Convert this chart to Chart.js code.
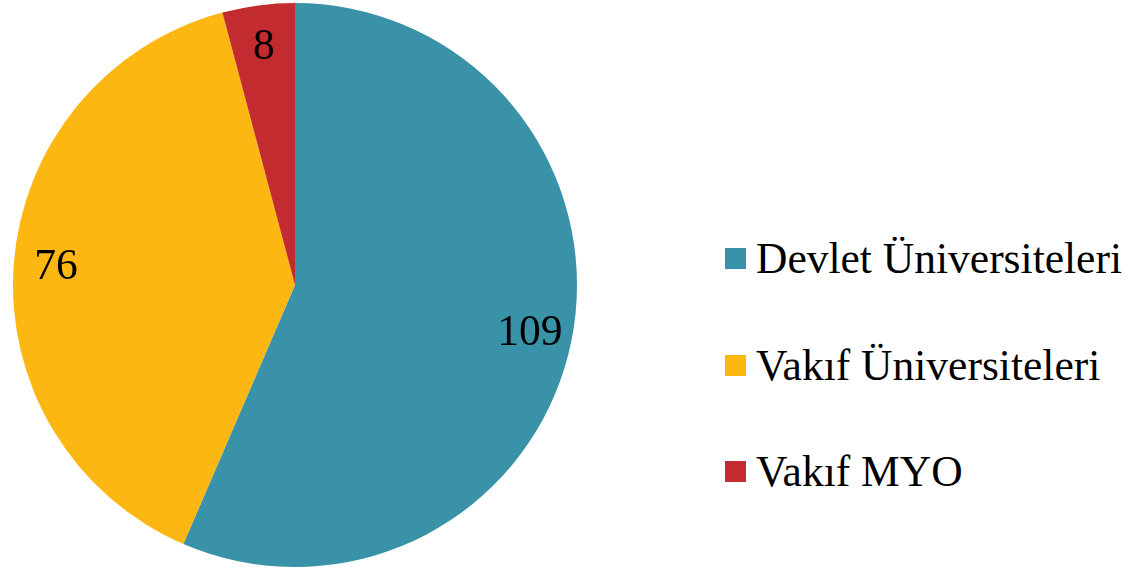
<!DOCTYPE html>
<html>
<head>
<meta charset="utf-8">
<script src="https://cdn.jsdelivr.net/npm/chart.js@4"></script>
<style>
  html, body { margin: 0; padding: 0; background: #ffffff; }
  #wrap { position: relative; width: 1126px; height: 567px; overflow: hidden; }
  #chartBox { position: absolute; left: 0; top: 0; width: 590px; height: 567px; }
  #legend { position: absolute; left: 725px; top: 0; font-family: "Liberation Serif", serif; font-size: 43.5px; color: #000; }
  .item { position: absolute; left: 0; display: flex; align-items: center; white-space: nowrap; height: 50px; }
  .sw { width: 21px; height: 21px; margin-right: 10px; flex: none; }
</style>
</head>
<body>
<div id="wrap">
  <div id="chartBox"><canvas id="c"></canvas></div>
  <div id="legend"></div>
</div>
<script>
const categories = ["Devlet Üniversiteleri", "Vakıf Üniversiteleri", "Vakıf MYO"];
const values = [109, 76, 8];
const colors = ["#3A92A8", "#FDB713", "#C22B2F"];

const FONT = '"Liberation Serif", serif';

const labelPlugin = {
  id: 'sliceLabels',
  afterDatasetsDraw(chart) {
    const ctx = chart.ctx;
    const meta = chart.getDatasetMeta(0);
    ctx.save();
    ctx.font = '43.5px ' + FONT;
    ctx.fillStyle = '#000';
    ctx.textAlign = 'center';
    ctx.textBaseline = 'middle';
    meta.data.forEach((arc, i) => {
      const p = arc.getProps(['x', 'y', 'startAngle', 'endAngle', 'outerRadius'], true);
      const mid = (p.startAngle + p.endAngle) / 2;
      const r = p.outerRadius * 0.85;
      ctx.fillText(String(values[i]), p.x + Math.cos(mid) * r, p.y + Math.sin(mid) * r);
    });
    ctx.restore();
  }
};

new Chart(document.getElementById('c'), {
  type: 'pie',
  data: {
    labels: categories,
    datasets: [{ data: values, backgroundColor: colors, borderWidth: 0 }]
  },
  options: {
    responsive: true,
    maintainAspectRatio: false,
    animation: false,
    layout: { padding: { top: 3, bottom: 0, left: 0, right: 0 } },
    plugins: { legend: { display: false }, tooltip: { enabled: false } }
  },
  plugins: [labelPlugin]
});

const legendEl = document.getElementById('legend');
const rowCenters = [258, 365, 471];
categories.forEach((name, i) => {
  const row = document.createElement('div');
  row.className = 'item';
  row.style.top = (rowCenters[i] - 25) + 'px';
  const sw = document.createElement('span');
  sw.className = 'sw';
  sw.style.background = colors[i];
  const tx = document.createElement('span');
  tx.textContent = name;
  row.appendChild(sw);
  row.appendChild(tx);
  legendEl.appendChild(row);
});
</script>
</body>
</html>
